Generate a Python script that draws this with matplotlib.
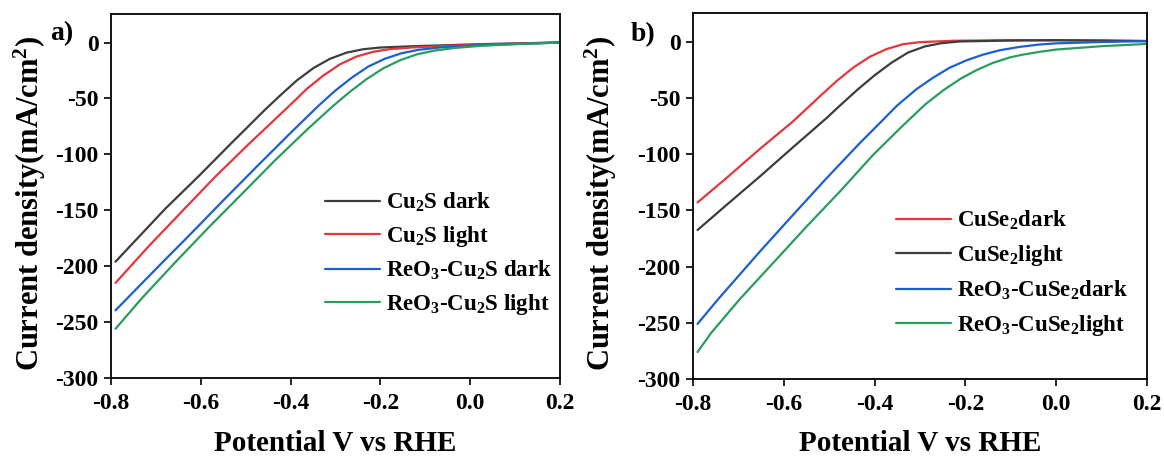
import matplotlib
matplotlib.use("Agg")
import matplotlib.pyplot as plt

plt.rcParams['font.family'] = ['Liberation Serif', 'DejaVu Serif']
plt.rcParams['font.weight'] = 'bold'
plt.rcParams['mathtext.fontset'] = 'custom'
plt.rcParams['mathtext.rm'] = 'Liberation Serif:bold'
plt.rcParams['mathtext.it'] = 'Liberation Serif:bold'
plt.rcParams['mathtext.bf'] = 'Liberation Serif:bold'
plt.rcParams['mathtext.default'] = 'rm'

# ---------------- Panel a data ----------------
a_cu2s_dark_x = [-0.79, -0.68, -0.606, -0.532, -0.458, -0.4236, -0.3864, -0.349, -0.312, -0.275, -0.238, -0.201, -0.127, -0.052, 0.022, 0.1, 0.2]
a_cu2s_dark_y = [-196, -149, -120, -90, -60.5, -47.5, -34, -22.8, -14.5, -9.0, -6.0, -4.5, -3.3, -2.4, -1.5, -0.8, 0]

a_cu2s_light_x = [-0.79, -0.718, -0.643, -0.569, -0.495, -0.4013, -0.364, -0.327, -0.29, -0.253, -0.216, -0.179, -0.127, -0.052, 0.022, 0.1, 0.2]
a_cu2s_light_y = [-215, -183, -151.5, -120.5, -91.5, -56, -41.5, -29.5, -19.5, -12.5, -8.3, -5.9, -4.4, -3.0, -1.9, -1.0, 0]

a_reo3_dark_x = [-0.79, -0.695, -0.621, -0.547, -0.473, -0.398, -0.338, -0.301, -0.264, -0.227, -0.19, -0.153, -0.116, -0.067, -0.015, 0.1, 0.2]
a_reo3_dark_y = [-239.5, -200.5, -170.5, -140, -110, -80, -56.6, -43.2, -31.5, -21.5, -14.5, -9.6, -6.6, -4.4, -3.0, -1.3, 0]

a_reo3_light_x = [-0.79, -0.732, -0.658, -0.584, -0.51, -0.435, -0.361, -0.305, -0.268, -0.231, -0.194, -0.156, -0.119, -0.082, -0.038, 0.022, 0.1, 0.2]
a_reo3_light_y = [-256, -229, -197, -166, -136, -105.5, -77, -56.6, -44.1, -32.8, -23.2, -15.8, -10.6, -7.4, -5.0, -3.0, -1.5, 0]

# ---------------- Panel b data ----------------
b_cuse2_dark_x = [-0.79, -0.727, -0.653, -0.58, -0.5203, -0.4835, -0.4468, -0.41, -0.373, -0.337, -0.3, -0.227, -0.08, 0.0, 0.1, 0.2]
b_cuse2_dark_y = [-143, -121.5, -95.5, -71, -48.5, -35, -23, -13.3, -6.5, -2.2, -0.4, 0.8, 1.4, 1.3, 1.0, 0.6]

b_cuse2_light_x = [-0.79, -0.727, -0.653, -0.58, -0.506, -0.4725, -0.436, -0.399, -0.362, -0.326, -0.289, -0.252, -0.212, -0.1, 0.0, 0.1, 0.2]
b_cuse2_light_y = [-167.5, -145.5, -120, -94, -68, -55.4, -42.1, -29.6, -18.5, -9.6, -4.2, -1.3, 0.2, 1.0, 1.3, 1.0, 0.5]

b_reo3_dark_x = [-0.79, -0.745, -0.653, -0.58, -0.506, -0.433, -0.395, -0.351, -0.307, -0.271, -0.234, -0.197, -0.161, -0.124, -0.08, -0.036, 0.0, 0.1, 0.2]
b_reo3_dark_y = [-251, -229.2, -186.8, -154.2, -121.5, -90.4, -75, -57, -42, -32, -23, -16.5, -11.5, -7.6, -4.6, -2.5, -1.5, -0.3, 0.5]

b_reo3_light_x = [-0.79, -0.76, -0.697, -0.624, -0.55, -0.477, -0.404, -0.34, -0.289, -0.249, -0.21, -0.175, -0.139, -0.102, -0.076, -0.036, 0.0, 0.1, 0.2]
b_reo3_light_y = [-276, -259, -229, -197, -164.5, -133.5, -101, -75.5, -56, -43.3, -32.8, -25.2, -18.8, -14, -11.7, -9, -7, -4, -2]

labels_a = ['Cu$_2$S dark', 'Cu$_2$S light', 'ReO$_3$-Cu$_2$S dark', 'ReO$_3$-Cu$_2$S light']
labels_b = ['CuSe$_2$dark', 'CuSe$_2$light', 'ReO$_3$-CuSe$_2$dark', 'ReO$_3$-CuSe$_2$light']

xticks = [-0.8, -0.6, -0.4, -0.2, 0.0, 0.2]
yticks = [-300, -250, -200, -150, -100, -50, 0]

BLACK = '#3d3d3d'
RED = '#e5363c'
BLUE = '#1c5fd2'
GREEN = '#2a9d5c'

W, H = 1164, 461
fig = plt.figure(figsize=(W / 100, H / 100), dpi=100)

ax_a = fig.add_axes([111 / W, 1 - 378 / H, (560 - 111) / W, (378 - 14) / H])
ax_b = fig.add_axes([693 / W, 1 - 379 / H, (1147 - 693) / W, (379 - 13) / H])

lw = 1.6
style = dict(lw=lw, solid_joinstyle='round', solid_capstyle='round')
ax_a.plot(a_cu2s_dark_x, a_cu2s_dark_y, color=BLACK, label=labels_a[0], **style)
ax_a.plot(a_cu2s_light_x, a_cu2s_light_y, color=RED, label=labels_a[1], **style)
ax_a.plot(a_reo3_dark_x, a_reo3_dark_y, color=BLUE, label=labels_a[2], **style)
ax_a.plot(a_reo3_light_x, a_reo3_light_y, color=GREEN, label=labels_a[3], **style)

ax_b.plot(b_cuse2_dark_x, b_cuse2_dark_y, color=RED, label=labels_b[0], **style)
ax_b.plot(b_cuse2_light_x, b_cuse2_light_y, color=BLACK, label=labels_b[1], **style)
ax_b.plot(b_reo3_dark_x, b_reo3_dark_y, color=BLUE, label=labels_b[2], **style)
ax_b.plot(b_reo3_light_x, b_reo3_light_y, color=GREEN, label=labels_b[3], **style)

for ax in (ax_a, ax_b):
    ax.set_xlim(-0.8, 0.2)
    ax.set_ylim(-300, 25.5)
    ax.set_xticks(xticks)
    ax.set_yticks(yticks)
    ax.set_xticklabels(['%.1f' % v for v in xticks])
    ax.set_yticklabels(['%d' % v for v in yticks])
    ax.tick_params(axis='both', direction='out', length=5, width=1.2, labelsize=17)
    ax.tick_params(axis='x', pad=6)
    ax.tick_params(axis='y', pad=4)
    for s in ax.spines.values():
        s.set_linewidth(1.3)
    ax.set_xlabel('Potential V vs RHE', fontsize=21, fontweight='bold')
    ax.set_ylabel('Current density(mA/cm$^2$)', fontsize=22, fontweight='bold')
    ax.xaxis.label.set_va('center')
    ax.yaxis.label.set_va('center')

ax_a.xaxis.set_label_coords(0.5, -0.1786)
ax_a.yaxis.set_label_coords(-0.1815, 0.4808)
ax_b.xaxis.set_label_coords(0.5, -0.1749)
ax_b.yaxis.set_label_coords(-0.2033, 0.4809)

ax_a.text(-0.109, 0.945, 'a)', transform=ax_a.transAxes, fontsize=20, fontweight='bold', ha='center', va='center')
ax_b.text(-0.111, 0.942, 'b)', transform=ax_b.transAxes, fontsize=20, fontweight='bold', ha='center', va='center')

leg_kw = dict(loc='upper left', frameon=False, fontsize=16.5, handlelength=2.4,
              handletextpad=0.25, borderpad=0, borderaxespad=0)
ax_a.legend(bbox_to_anchor=(0.477, 0.514), labelspacing=0.43, **leg_kw)
ax_b.legend(bbox_to_anchor=(0.447, 0.465), labelspacing=0.48, **leg_kw)

fig.savefig('out.png', dpi=100)
